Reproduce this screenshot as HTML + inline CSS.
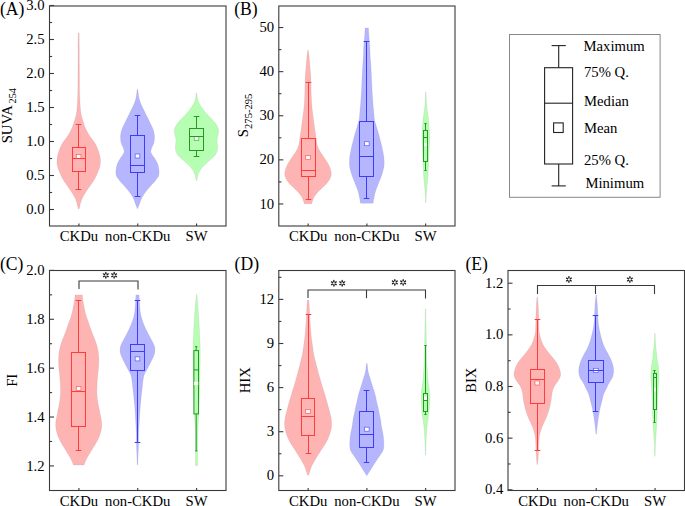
<!DOCTYPE html>
<html><head><meta charset="utf-8"><title>Violin plots</title>
<style>
html,body{margin:0;padding:0;background:#fff;}
body{width:685px;height:506px;overflow:hidden;}
svg{display:block;font-family:"Liberation Serif", serif;}
text{fill:#000;}
</style></head>
<body>
<svg width="685" height="506" viewBox="0 0 685 506">
<rect width="685" height="506" fill="#fff"/>
<path d="M79.15,33.00 C79.18,35.83 79.26,43.83 79.30,50.00 C79.34,56.17 79.36,63.33 79.40,70.00 C79.44,76.67 79.50,85.83 79.55,90.00 C79.60,94.17 79.62,92.85 79.70,95.00 C79.78,97.15 79.85,100.27 80.00,102.90 C80.15,105.53 80.40,108.82 80.60,110.80 C80.80,112.78 80.92,113.48 81.20,114.80 C81.48,116.12 81.83,117.13 82.30,118.70 C82.77,120.27 83.40,122.48 84.00,124.20 C84.60,125.92 85.12,127.30 85.90,129.00 C86.68,130.70 87.72,132.77 88.70,134.40 C89.68,136.03 90.77,137.35 91.80,138.80 C92.83,140.25 94.02,141.65 94.90,143.10 C95.78,144.55 96.45,146.03 97.10,147.50 C97.75,148.97 98.33,150.43 98.80,151.90 C99.27,153.37 99.63,154.83 99.90,156.30 C100.17,157.77 100.35,159.25 100.40,160.70 C100.45,162.15 100.45,163.52 100.20,165.00 C99.95,166.48 99.43,168.05 98.90,169.60 C98.37,171.15 97.70,172.75 97.00,174.30 C96.30,175.85 95.58,177.35 94.70,178.90 C93.82,180.45 92.75,182.05 91.70,183.60 C90.65,185.15 89.48,186.65 88.40,188.20 C87.32,189.75 86.17,191.35 85.20,192.90 C84.23,194.45 83.33,195.97 82.60,197.50 C81.87,199.03 81.28,200.55 80.80,202.10 C80.32,203.65 80.00,205.63 79.70,206.80 C79.40,207.97 79.12,208.72 79.00,209.10 L78.40,209.10 C78.28,208.72 78.00,207.97 77.70,206.80 C77.40,205.63 77.08,203.65 76.60,202.10 C76.12,200.55 75.53,199.03 74.80,197.50 C74.07,195.97 73.17,194.45 72.20,192.90 C71.23,191.35 70.08,189.75 69.00,188.20 C67.92,186.65 66.75,185.15 65.70,183.60 C64.65,182.05 63.58,180.45 62.70,178.90 C61.82,177.35 61.10,175.85 60.40,174.30 C59.70,172.75 59.03,171.15 58.50,169.60 C57.97,168.05 57.45,166.48 57.20,165.00 C56.95,163.52 56.95,162.15 57.00,160.70 C57.05,159.25 57.23,157.77 57.50,156.30 C57.77,154.83 58.13,153.37 58.60,151.90 C59.07,150.43 59.65,148.97 60.30,147.50 C60.95,146.03 61.62,144.55 62.50,143.10 C63.38,141.65 64.57,140.25 65.60,138.80 C66.63,137.35 67.72,136.03 68.70,134.40 C69.68,132.77 70.72,130.70 71.50,129.00 C72.28,127.30 72.80,125.92 73.40,124.20 C74.00,122.48 74.63,120.27 75.10,118.70 C75.57,117.13 75.92,116.12 76.20,114.80 C76.48,113.48 76.60,112.78 76.80,110.80 C77.00,108.82 77.25,105.53 77.40,102.90 C77.55,100.27 77.62,97.15 77.70,95.00 C77.78,92.85 77.80,94.17 77.85,90.00 C77.90,85.83 77.96,76.67 78.00,70.00 C78.04,63.33 78.06,56.17 78.10,50.00 C78.14,43.83 78.22,35.83 78.25,33.00 Z" fill="rgb(255,180,180)" stroke="#808080" stroke-opacity="0.18" stroke-width="0.7"/>
<path d="M137.80,89.50 C137.88,90.08 138.10,91.60 138.30,93.00 C138.50,94.40 138.53,96.02 139.00,97.90 C139.47,99.78 140.23,102.17 141.10,104.30 C141.97,106.43 143.17,108.57 144.20,110.70 C145.23,112.83 146.27,114.95 147.30,117.10 C148.33,119.25 149.38,121.45 150.40,123.60 C151.42,125.75 152.72,127.87 153.40,130.00 C154.08,132.13 154.42,134.27 154.50,136.40 C154.58,138.53 154.30,141.03 153.90,142.80 C153.50,144.57 152.62,145.53 152.10,147.00 C151.58,148.47 150.77,150.27 150.80,151.60 C150.83,152.93 151.65,153.90 152.30,155.00 C152.95,156.10 153.75,156.57 154.70,158.20 C155.65,159.83 157.27,162.58 158.00,164.80 C158.73,167.02 158.98,169.73 159.10,171.50 C159.22,173.27 159.00,174.30 158.70,175.40 C158.40,176.50 157.97,177.08 157.30,178.10 C156.63,179.12 155.63,180.40 154.70,181.50 C153.77,182.60 153.12,183.07 151.70,184.70 C150.28,186.33 147.85,189.10 146.20,191.30 C144.55,193.50 142.95,195.70 141.80,197.90 C140.65,200.10 139.97,202.73 139.30,204.50 C138.63,206.27 138.05,207.83 137.80,208.50 L137.20,208.50 C136.95,207.83 136.37,206.27 135.70,204.50 C135.03,202.73 134.35,200.10 133.20,197.90 C132.05,195.70 130.45,193.50 128.80,191.30 C127.15,189.10 124.72,186.33 123.30,184.70 C121.88,183.07 121.23,182.60 120.30,181.50 C119.37,180.40 118.37,179.12 117.70,178.10 C117.03,177.08 116.60,176.50 116.30,175.40 C116.00,174.30 115.78,173.27 115.90,171.50 C116.02,169.73 116.27,167.02 117.00,164.80 C117.73,162.58 119.35,159.83 120.30,158.20 C121.25,156.57 122.05,156.10 122.70,155.00 C123.35,153.90 124.17,152.93 124.20,151.60 C124.23,150.27 123.42,148.47 122.90,147.00 C122.38,145.53 121.50,144.57 121.10,142.80 C120.70,141.03 120.42,138.53 120.50,136.40 C120.58,134.27 120.92,132.13 121.60,130.00 C122.28,127.87 123.58,125.75 124.60,123.60 C125.62,121.45 126.67,119.25 127.70,117.10 C128.73,114.95 129.77,112.83 130.80,110.70 C131.83,108.57 133.03,106.43 133.90,104.30 C134.77,102.17 135.53,99.78 136.00,97.90 C136.47,96.02 136.50,94.40 136.70,93.00 C136.90,91.60 137.12,90.08 137.20,89.50 Z" fill="rgb(182,182,255)" stroke="#808080" stroke-opacity="0.18" stroke-width="0.7"/>
<path d="M196.80,92.90 C196.90,93.73 197.07,96.25 197.40,97.90 C197.73,99.55 198.05,101.15 198.80,102.80 C199.55,104.45 200.75,106.15 201.90,107.80 C203.05,109.45 204.30,111.07 205.70,112.70 C207.10,114.33 208.78,115.95 210.30,117.60 C211.82,119.25 213.53,120.95 214.80,122.60 C216.07,124.25 217.27,126.02 217.90,127.50 C218.53,128.98 218.58,130.25 218.60,131.50 C218.62,132.75 218.27,133.60 218.00,135.00 C217.73,136.40 217.10,138.25 217.00,139.90 C216.90,141.55 217.33,143.25 217.40,144.90 C217.47,146.55 217.75,148.15 217.40,149.80 C217.05,151.45 216.48,153.15 215.30,154.80 C214.12,156.45 212.03,158.07 210.30,159.70 C208.57,161.33 206.53,162.95 204.90,164.60 C203.27,166.25 201.63,167.95 200.50,169.60 C199.37,171.25 198.72,172.68 198.10,174.50 C197.48,176.32 197.02,179.50 196.80,180.50 L196.20,180.50 C195.98,179.50 195.52,176.32 194.90,174.50 C194.28,172.68 193.63,171.25 192.50,169.60 C191.37,167.95 189.73,166.25 188.10,164.60 C186.47,162.95 184.43,161.33 182.70,159.70 C180.97,158.07 178.88,156.45 177.70,154.80 C176.52,153.15 175.95,151.45 175.60,149.80 C175.25,148.15 175.53,146.55 175.60,144.90 C175.67,143.25 176.10,141.55 176.00,139.90 C175.90,138.25 175.27,136.40 175.00,135.00 C174.73,133.60 174.38,132.75 174.40,131.50 C174.42,130.25 174.47,128.98 175.10,127.50 C175.73,126.02 176.93,124.25 178.20,122.60 C179.47,120.95 181.18,119.25 182.70,117.60 C184.22,115.95 185.90,114.33 187.30,112.70 C188.70,111.07 189.95,109.45 191.10,107.80 C192.25,106.15 193.45,104.45 194.20,102.80 C194.95,101.15 195.27,99.55 195.60,97.90 C195.93,96.25 196.10,93.73 196.20,92.90 Z" fill="rgb(182,255,178)" stroke="#808080" stroke-opacity="0.18" stroke-width="0.7"/>
<rect x="76.29" y="154.41" width="4.62" height="3.99" fill="#fff" stroke="#ff3c3c" stroke-width="0.7" stroke-opacity="0.8"/>
<g stroke="#ff3c3c" stroke-width="1.0" fill="none">
<line x1="78.5" y1="124.5" x2="78.5" y2="147.5"/>
<line x1="78.5" y1="171.5" x2="78.5" y2="189.5"/>
<line x1="75.7" y1="124.5" x2="81.3" y2="124.5"/>
<line x1="75.7" y1="189.5" x2="81.3" y2="189.5"/>
<rect x="72.5" y="147.5" width="13.0" height="24.0"/>
<line x1="72.5" y1="158.5" x2="85.5" y2="158.5"/>
</g>
<rect x="135.19" y="154.00" width="4.62" height="3.99" fill="#fff" stroke="#3c3cff" stroke-width="0.7" stroke-opacity="0.8"/>
<g stroke="#3c3cff" stroke-width="1.0" fill="none">
<line x1="137.5" y1="115.5" x2="137.5" y2="135.5"/>
<line x1="137.5" y1="172.5" x2="137.5" y2="196.5"/>
<line x1="134.7" y1="115.5" x2="140.3" y2="115.5"/>
<line x1="134.7" y1="196.5" x2="140.3" y2="196.5"/>
<rect x="130.5" y="135.5" width="14.0" height="37.0"/>
<line x1="130.5" y1="165.5" x2="144.5" y2="165.5"/>
</g>
<rect x="194.19" y="136.50" width="4.62" height="3.99" fill="#fff" stroke="#229a22" stroke-width="0.7" stroke-opacity="0.8"/>
<g stroke="#229a22" stroke-width="1.0" fill="none">
<line x1="196.5" y1="116.5" x2="196.5" y2="128.5"/>
<line x1="196.5" y1="150.5" x2="196.5" y2="156.5"/>
<line x1="193.7" y1="116.5" x2="199.3" y2="116.5"/>
<line x1="193.7" y1="156.5" x2="199.3" y2="156.5"/>
<rect x="189.5" y="128.5" width="14.0" height="22.0"/>
<line x1="189.5" y1="136.5" x2="203.5" y2="136.5"/>
</g>
<rect x="49.5" y="6.0" width="176.5" height="220.0" fill="none" stroke="#3a3a3a" stroke-width="1.1"/>
<g stroke="#3a3a3a" stroke-width="1.1">
<line x1="49.5" y1="209.5" x2="54.0" y2="209.5"/>
<line x1="49.5" y1="175.5" x2="54.0" y2="175.5"/>
<line x1="49.5" y1="141.5" x2="54.0" y2="141.5"/>
<line x1="49.5" y1="107.5" x2="54.0" y2="107.5"/>
<line x1="49.5" y1="73.5" x2="54.0" y2="73.5"/>
<line x1="49.5" y1="39.5" x2="54.0" y2="39.5"/>
<line x1="49.5" y1="5.5" x2="54.0" y2="5.5"/>
<line x1="49.5" y1="192.5" x2="52.1" y2="192.5"/>
<line x1="49.5" y1="158.5" x2="52.1" y2="158.5"/>
<line x1="49.5" y1="124.5" x2="52.1" y2="124.5"/>
<line x1="49.5" y1="90.5" x2="52.1" y2="90.5"/>
<line x1="49.5" y1="56.5" x2="52.1" y2="56.5"/>
<line x1="49.5" y1="22.5" x2="52.1" y2="22.5"/>
</g>
<text x="44.6" y="214.1" text-anchor="end" font-size="14.7">0.0</text>
<text x="44.6" y="180.1" text-anchor="end" font-size="14.7">0.5</text>
<text x="44.6" y="146.1" text-anchor="end" font-size="14.7">1.0</text>
<text x="44.6" y="112.1" text-anchor="end" font-size="14.7">1.5</text>
<text x="44.6" y="78.1" text-anchor="end" font-size="14.7">2.0</text>
<text x="44.6" y="44.1" text-anchor="end" font-size="14.7">2.5</text>
<text x="44.6" y="10.1" text-anchor="end" font-size="14.7">3.0</text>
<g stroke="#3a3a3a" stroke-width="1.1">
<line x1="78.91666666666667" y1="226.0" x2="78.91666666666667" y2="223.6"/>
<line x1="137.75" y1="226.0" x2="137.75" y2="223.6"/>
<line x1="196.58333333333334" y1="226.0" x2="196.58333333333334" y2="223.6"/>
</g>
<text x="78.91666666666667" y="241.1" text-anchor="middle" font-size="14.7">CKDu</text>
<text x="137.75" y="241.1" text-anchor="middle" font-size="14.7">non-CKDu</text>
<text x="196.58333333333334" y="241.1" text-anchor="middle" font-size="14.7">SW</text>
<path d="M308.30,50.30 C308.45,51.55 308.90,54.77 309.20,57.80 C309.50,60.83 309.85,65.53 310.10,68.50 C310.35,71.47 310.55,73.23 310.70,75.60 C310.85,77.97 310.92,79.73 311.00,82.70 C311.08,85.67 311.10,90.13 311.20,93.40 C311.30,96.67 311.40,99.33 311.60,102.30 C311.80,105.27 312.07,108.23 312.40,111.20 C312.73,114.17 313.30,117.80 313.60,120.10 C313.90,122.40 313.98,123.37 314.20,125.00 C314.42,126.63 314.65,128.25 314.90,129.90 C315.15,131.55 315.45,133.25 315.70,134.90 C315.95,136.55 316.15,138.15 316.40,139.80 C316.65,141.45 316.75,143.15 317.20,144.80 C317.65,146.45 318.28,148.07 319.10,149.70 C319.92,151.33 321.03,152.95 322.10,154.60 C323.17,156.25 324.43,157.95 325.50,159.60 C326.57,161.25 327.67,162.85 328.50,164.50 C329.33,166.15 330.03,167.93 330.50,169.50 C330.97,171.07 331.35,172.43 331.30,173.90 C331.25,175.37 330.87,176.82 330.20,178.30 C329.53,179.78 328.52,181.32 327.30,182.80 C326.08,184.28 324.42,185.72 322.90,187.20 C321.38,188.68 319.57,190.22 318.20,191.70 C316.83,193.18 315.62,194.62 314.70,196.10 C313.78,197.58 313.18,199.33 312.70,200.60 C312.22,201.87 311.95,203.18 311.80,203.70 L304.20,203.70 C304.05,203.18 303.78,201.87 303.30,200.60 C302.82,199.33 302.22,197.58 301.30,196.10 C300.38,194.62 299.17,193.18 297.80,191.70 C296.43,190.22 294.62,188.68 293.10,187.20 C291.58,185.72 289.92,184.28 288.70,182.80 C287.48,181.32 286.47,179.78 285.80,178.30 C285.13,176.82 284.75,175.37 284.70,173.90 C284.65,172.43 285.03,171.07 285.50,169.50 C285.97,167.93 286.67,166.15 287.50,164.50 C288.33,162.85 289.43,161.25 290.50,159.60 C291.57,157.95 292.83,156.25 293.90,154.60 C294.97,152.95 296.08,151.33 296.90,149.70 C297.72,148.07 298.35,146.45 298.80,144.80 C299.25,143.15 299.35,141.45 299.60,139.80 C299.85,138.15 300.05,136.55 300.30,134.90 C300.55,133.25 300.85,131.55 301.10,129.90 C301.35,128.25 301.58,126.63 301.80,125.00 C302.02,123.37 302.10,122.40 302.40,120.10 C302.70,117.80 303.27,114.17 303.60,111.20 C303.93,108.23 304.20,105.27 304.40,102.30 C304.60,99.33 304.70,96.67 304.80,93.40 C304.90,90.13 304.92,85.67 305.00,82.70 C305.08,79.73 305.15,77.97 305.30,75.60 C305.45,73.23 305.65,71.47 305.90,68.50 C306.15,65.53 306.50,60.83 306.80,57.80 C307.10,54.77 307.55,51.55 307.70,50.30 Z" fill="rgb(255,180,180)" stroke="#808080" stroke-opacity="0.18" stroke-width="0.7"/>
<path d="M368.50,27.90 C368.57,29.08 368.75,32.88 368.90,35.00 C369.05,37.12 369.23,38.43 369.40,40.60 C369.57,42.77 369.77,45.45 369.90,48.00 C370.03,50.55 370.05,53.23 370.20,55.90 C370.35,58.57 370.62,61.18 370.80,64.00 C370.98,66.82 371.15,69.97 371.30,72.80 C371.45,75.63 371.57,78.17 371.70,81.00 C371.83,83.83 371.95,86.97 372.10,89.80 C372.25,92.63 372.43,95.47 372.60,98.00 C372.77,100.53 372.93,103.02 373.10,105.00 C373.27,106.98 373.45,108.25 373.60,109.90 C373.75,111.55 373.85,113.25 374.00,114.90 C374.15,116.55 374.18,118.15 374.50,119.80 C374.82,121.45 375.42,123.15 375.90,124.80 C376.38,126.45 376.90,128.07 377.40,129.70 C377.90,131.33 378.45,132.95 378.90,134.60 C379.35,136.25 379.68,137.95 380.10,139.60 C380.52,141.25 381.00,142.85 381.40,144.50 C381.80,146.15 382.12,147.63 382.50,149.50 C382.88,151.37 383.42,153.70 383.70,155.70 C383.98,157.70 384.17,159.58 384.20,161.50 C384.23,163.42 384.20,165.30 383.90,167.20 C383.60,169.10 382.98,170.98 382.40,172.90 C381.82,174.82 381.12,176.78 380.40,178.70 C379.68,180.62 378.83,182.50 378.10,184.40 C377.37,186.30 376.62,188.18 376.00,190.10 C375.38,192.02 374.88,193.70 374.40,195.90 C373.92,198.10 373.32,202.07 373.10,203.30 L360.50,203.30 C360.28,202.07 359.68,198.10 359.20,195.90 C358.72,193.70 358.22,192.02 357.60,190.10 C356.98,188.18 356.23,186.30 355.50,184.40 C354.77,182.50 353.92,180.62 353.20,178.70 C352.48,176.78 351.78,174.82 351.20,172.90 C350.62,170.98 350.00,169.10 349.70,167.20 C349.40,165.30 349.37,163.42 349.40,161.50 C349.43,159.58 349.62,157.70 349.90,155.70 C350.18,153.70 350.72,151.37 351.10,149.50 C351.48,147.63 351.80,146.15 352.20,144.50 C352.60,142.85 353.08,141.25 353.50,139.60 C353.92,137.95 354.25,136.25 354.70,134.60 C355.15,132.95 355.70,131.33 356.20,129.70 C356.70,128.07 357.22,126.45 357.70,124.80 C358.18,123.15 358.78,121.45 359.10,119.80 C359.42,118.15 359.45,116.55 359.60,114.90 C359.75,113.25 359.85,111.55 360.00,109.90 C360.15,108.25 360.33,106.98 360.50,105.00 C360.67,103.02 360.83,100.53 361.00,98.00 C361.17,95.47 361.35,92.63 361.50,89.80 C361.65,86.97 361.77,83.83 361.90,81.00 C362.03,78.17 362.15,75.63 362.30,72.80 C362.45,69.97 362.62,66.82 362.80,64.00 C362.98,61.18 363.25,58.57 363.40,55.90 C363.55,53.23 363.57,50.55 363.70,48.00 C363.83,45.45 364.03,42.77 364.20,40.60 C364.37,38.43 364.55,37.12 364.70,35.00 C364.85,32.88 365.03,29.08 365.10,27.90 Z" fill="rgb(182,182,255)" stroke="#808080" stroke-opacity="0.18" stroke-width="0.7"/>
<path d="M426.00,92.10 C426.05,93.08 426.20,95.97 426.30,98.00 C426.40,100.03 426.43,102.18 426.60,104.30 C426.77,106.42 427.03,108.57 427.30,110.70 C427.57,112.83 427.93,114.95 428.20,117.10 C428.47,119.25 428.70,121.28 428.90,123.60 C429.10,125.92 429.28,128.60 429.40,131.00 C429.52,133.40 429.60,135.67 429.60,138.00 C429.60,140.33 429.52,142.08 429.40,145.00 C429.28,147.92 429.07,151.78 428.90,155.50 C428.73,159.22 428.57,163.88 428.40,167.30 C428.23,170.72 428.07,173.53 427.90,176.00 C427.73,178.47 427.58,180.00 427.40,182.10 C427.22,184.20 426.98,186.45 426.80,188.60 C426.62,190.75 426.43,192.65 426.30,195.00 C426.17,197.35 426.05,201.42 426.00,202.70 L425.60,202.70 C425.55,201.42 425.43,197.35 425.30,195.00 C425.17,192.65 424.98,190.75 424.80,188.60 C424.62,186.45 424.38,184.20 424.20,182.10 C424.02,180.00 423.87,178.47 423.70,176.00 C423.53,173.53 423.37,170.72 423.20,167.30 C423.03,163.88 422.87,159.22 422.70,155.50 C422.53,151.78 422.32,147.92 422.20,145.00 C422.08,142.08 422.00,140.33 422.00,138.00 C422.00,135.67 422.08,133.40 422.20,131.00 C422.32,128.60 422.50,125.92 422.70,123.60 C422.90,121.28 423.13,119.25 423.40,117.10 C423.67,114.95 424.03,112.83 424.30,110.70 C424.57,108.57 424.83,106.42 425.00,104.30 C425.17,102.18 425.20,100.03 425.30,98.00 C425.40,95.97 425.55,93.08 425.60,92.10 Z" fill="rgb(182,255,178)" stroke="#808080" stroke-opacity="0.18" stroke-width="0.7"/>
<rect x="305.69" y="155.60" width="4.62" height="3.99" fill="#fff" stroke="#ff3c3c" stroke-width="0.7" stroke-opacity="0.8"/>
<g stroke="#ff3c3c" stroke-width="1.0" fill="none">
<line x1="308.5" y1="82.5" x2="308.5" y2="138.5"/>
<line x1="308.5" y1="176.5" x2="308.5" y2="199.5"/>
<line x1="305.7" y1="82.5" x2="311.3" y2="82.5"/>
<line x1="305.7" y1="199.5" x2="311.3" y2="199.5"/>
<rect x="301.5" y="138.5" width="14.0" height="38.0"/>
<line x1="301.5" y1="170.5" x2="315.5" y2="170.5"/>
</g>
<rect x="364.49" y="141.70" width="4.62" height="3.99" fill="#fff" stroke="#3c3cff" stroke-width="0.7" stroke-opacity="0.8"/>
<g stroke="#3c3cff" stroke-width="1.0" fill="none">
<line x1="366.5" y1="41.5" x2="366.5" y2="121.5"/>
<line x1="366.5" y1="176.5" x2="366.5" y2="198.5"/>
<line x1="363.7" y1="41.5" x2="369.3" y2="41.5"/>
<line x1="363.7" y1="198.5" x2="369.3" y2="198.5"/>
<rect x="359.5" y="121.5" width="14.0" height="55.0"/>
<line x1="359.5" y1="156.5" x2="373.5" y2="156.5"/>
</g>
<rect x="424.00" y="142.90" width="3.20" height="3.20" fill="#fff" stroke="#229a22" stroke-width="0.7" stroke-opacity="0.0"/>
<g stroke="#229a22" stroke-width="1.0" fill="none">
<line x1="425.5" y1="123.5" x2="425.5" y2="130.5"/>
<line x1="425.5" y1="161.5" x2="425.5" y2="170.5"/>
<line x1="424.3" y1="123.5" x2="426.7" y2="123.5"/>
<line x1="424.3" y1="170.5" x2="426.7" y2="170.5"/>
<rect x="423.5" y="130.5" width="4.0" height="31.0"/>
<line x1="423.5" y1="137.5" x2="427.5" y2="137.5"/>
</g>
<rect x="278.8" y="6.0" width="176.2" height="220.0" fill="none" stroke="#3a3a3a" stroke-width="1.1"/>
<g stroke="#3a3a3a" stroke-width="1.1">
<line x1="278.8" y1="203.95000000000002" x2="283.3" y2="203.95000000000002"/>
<line x1="278.8" y1="159.85" x2="283.3" y2="159.85"/>
<line x1="278.8" y1="115.75" x2="283.3" y2="115.75"/>
<line x1="278.8" y1="71.65" x2="283.3" y2="71.65"/>
<line x1="278.8" y1="27.55" x2="283.3" y2="27.55"/>
<line x1="278.8" y1="181.9" x2="281.40000000000003" y2="181.9"/>
<line x1="278.8" y1="137.8" x2="281.40000000000003" y2="137.8"/>
<line x1="278.8" y1="93.7" x2="281.40000000000003" y2="93.7"/>
<line x1="278.8" y1="49.6" x2="281.40000000000003" y2="49.6"/>
</g>
<text x="274.2" y="208.55" text-anchor="end" font-size="14.7">10</text>
<text x="274.2" y="164.45" text-anchor="end" font-size="14.7">20</text>
<text x="274.2" y="120.35" text-anchor="end" font-size="14.7">30</text>
<text x="274.2" y="76.25" text-anchor="end" font-size="14.7">40</text>
<text x="274.2" y="32.15" text-anchor="end" font-size="14.7">50</text>
<g stroke="#3a3a3a" stroke-width="1.1">
<line x1="308.1666666666667" y1="226.0" x2="308.1666666666667" y2="223.6"/>
<line x1="366.9" y1="226.0" x2="366.9" y2="223.6"/>
<line x1="425.6333333333333" y1="226.0" x2="425.6333333333333" y2="223.6"/>
</g>
<text x="308.1666666666667" y="241.1" text-anchor="middle" font-size="14.7">CKDu</text>
<text x="366.9" y="241.1" text-anchor="middle" font-size="14.7">non-CKDu</text>
<text x="425.6333333333333" y="241.1" text-anchor="middle" font-size="14.7">SW</text>
<path d="M82.30,294.90 C82.42,295.90 82.72,299.00 83.00,300.90 C83.28,302.80 83.67,304.50 84.00,306.30 C84.33,308.10 84.57,309.88 85.00,311.70 C85.43,313.52 86.02,315.38 86.60,317.20 C87.18,319.02 87.87,320.80 88.50,322.60 C89.13,324.40 89.75,326.18 90.40,328.00 C91.05,329.82 91.70,331.68 92.40,333.50 C93.10,335.32 93.92,337.10 94.60,338.90 C95.28,340.70 95.92,342.30 96.50,344.30 C97.08,346.30 97.73,348.90 98.10,350.90 C98.47,352.90 98.58,354.50 98.70,356.30 C98.82,358.10 98.82,359.88 98.80,361.70 C98.78,363.52 98.73,365.38 98.60,367.20 C98.47,369.02 98.18,370.80 98.00,372.60 C97.82,374.40 97.65,376.18 97.50,378.00 C97.35,379.82 97.21,381.53 97.10,383.50 C96.99,385.47 96.87,387.88 96.85,389.80 C96.83,391.72 96.89,393.30 97.00,395.00 C97.11,396.70 97.28,398.33 97.50,400.00 C97.72,401.67 97.98,403.33 98.30,405.00 C98.62,406.67 99.07,408.33 99.40,410.00 C99.73,411.67 99.97,413.27 100.30,415.00 C100.63,416.73 101.17,418.58 101.40,420.40 C101.63,422.22 101.78,424.08 101.70,425.90 C101.62,427.72 101.32,429.50 100.90,431.30 C100.48,433.10 99.93,434.88 99.20,436.70 C98.47,438.52 97.48,440.38 96.50,442.20 C95.52,444.02 94.38,445.80 93.30,447.60 C92.22,449.40 91.10,451.18 90.00,453.00 C88.90,454.82 87.70,456.50 86.70,458.50 C85.70,460.50 84.45,463.92 84.00,465.00 L73.40,465.00 C72.95,463.92 71.70,460.50 70.70,458.50 C69.70,456.50 68.50,454.82 67.40,453.00 C66.30,451.18 65.18,449.40 64.10,447.60 C63.02,445.80 61.88,444.02 60.90,442.20 C59.92,440.38 58.93,438.52 58.20,436.70 C57.47,434.88 56.92,433.10 56.50,431.30 C56.08,429.50 55.78,427.72 55.70,425.90 C55.62,424.08 55.77,422.22 56.00,420.40 C56.23,418.58 56.77,416.73 57.10,415.00 C57.43,413.27 57.67,411.67 58.00,410.00 C58.33,408.33 58.78,406.67 59.10,405.00 C59.42,403.33 59.68,401.67 59.90,400.00 C60.12,398.33 60.29,396.70 60.40,395.00 C60.51,393.30 60.57,391.72 60.55,389.80 C60.53,387.88 60.41,385.47 60.30,383.50 C60.19,381.53 60.05,379.82 59.90,378.00 C59.75,376.18 59.58,374.40 59.40,372.60 C59.22,370.80 58.93,369.02 58.80,367.20 C58.67,365.38 58.62,363.52 58.60,361.70 C58.58,359.88 58.58,358.10 58.70,356.30 C58.82,354.50 58.93,352.90 59.30,350.90 C59.67,348.90 60.32,346.30 60.90,344.30 C61.48,342.30 62.12,340.70 62.80,338.90 C63.48,337.10 64.30,335.32 65.00,333.50 C65.70,331.68 66.35,329.82 67.00,328.00 C67.65,326.18 68.27,324.40 68.90,322.60 C69.53,320.80 70.22,319.02 70.80,317.20 C71.38,315.38 71.97,313.52 72.40,311.70 C72.83,309.88 73.07,308.10 73.40,306.30 C73.73,304.50 74.12,302.80 74.40,300.90 C74.68,299.00 74.98,295.90 75.10,294.90 Z" fill="rgb(255,180,180)" stroke="#808080" stroke-opacity="0.18" stroke-width="0.7"/>
<path d="M139.10,294.90 C139.15,295.80 139.28,298.40 139.40,300.30 C139.52,302.20 139.65,304.38 139.80,306.30 C139.95,308.22 140.03,309.98 140.30,311.80 C140.57,313.62 140.93,315.40 141.40,317.20 C141.87,319.00 142.43,320.78 143.10,322.60 C143.77,324.42 144.57,326.28 145.40,328.10 C146.23,329.92 147.17,331.68 148.10,333.50 C149.03,335.32 150.05,337.18 151.00,339.00 C151.95,340.82 153.17,342.93 153.80,344.40 C154.43,345.87 154.65,346.35 154.80,347.80 C154.95,349.25 155.07,351.32 154.70,353.10 C154.33,354.88 153.23,357.02 152.60,358.50 C151.97,359.98 151.48,360.82 150.90,362.00 C150.32,363.18 149.80,364.27 149.10,365.60 C148.40,366.93 147.50,368.52 146.70,370.00 C145.90,371.48 144.87,373.00 144.30,374.50 C143.73,376.00 143.57,377.52 143.30,379.00 C143.03,380.48 142.97,381.18 142.70,383.40 C142.43,385.62 142.02,389.35 141.70,392.30 C141.38,395.25 141.08,398.15 140.80,401.10 C140.52,404.05 140.22,407.03 140.00,410.00 C139.78,412.97 139.68,415.70 139.50,418.90 C139.32,422.10 139.05,425.68 138.90,429.20 C138.75,432.72 138.68,436.72 138.60,440.00 C138.52,443.28 138.48,446.23 138.40,448.90 C138.32,451.57 138.20,453.37 138.10,456.00 C138.00,458.63 137.85,463.25 137.80,464.70 L137.20,464.70 C137.15,463.25 137.00,458.63 136.90,456.00 C136.80,453.37 136.68,451.57 136.60,448.90 C136.52,446.23 136.48,443.28 136.40,440.00 C136.32,436.72 136.25,432.72 136.10,429.20 C135.95,425.68 135.68,422.10 135.50,418.90 C135.32,415.70 135.22,412.97 135.00,410.00 C134.78,407.03 134.48,404.05 134.20,401.10 C133.92,398.15 133.62,395.25 133.30,392.30 C132.98,389.35 132.57,385.62 132.30,383.40 C132.03,381.18 131.97,380.48 131.70,379.00 C131.43,377.52 131.27,376.00 130.70,374.50 C130.13,373.00 129.10,371.48 128.30,370.00 C127.50,368.52 126.60,366.93 125.90,365.60 C125.20,364.27 124.68,363.18 124.10,362.00 C123.52,360.82 123.03,359.98 122.40,358.50 C121.77,357.02 120.67,354.88 120.30,353.10 C119.93,351.32 120.05,349.25 120.20,347.80 C120.35,346.35 120.57,345.87 121.20,344.40 C121.83,342.93 123.05,340.82 124.00,339.00 C124.95,337.18 125.97,335.32 126.90,333.50 C127.83,331.68 128.77,329.92 129.60,328.10 C130.43,326.28 131.23,324.42 131.90,322.60 C132.57,320.78 133.13,319.00 133.60,317.20 C134.07,315.40 134.43,313.62 134.70,311.80 C134.97,309.98 135.05,308.22 135.20,306.30 C135.35,304.38 135.48,302.20 135.60,300.30 C135.72,298.40 135.85,295.80 135.90,294.90 Z" fill="rgb(182,182,255)" stroke="#808080" stroke-opacity="0.18" stroke-width="0.7"/>
<path d="M196.80,294.40 C196.87,295.17 197.05,297.43 197.20,299.00 C197.35,300.57 197.50,301.47 197.70,303.80 C197.90,306.13 198.18,309.87 198.40,313.00 C198.62,316.13 198.82,319.43 199.00,322.60 C199.18,325.77 199.33,328.85 199.50,332.00 C199.67,335.15 199.88,338.50 200.00,341.50 C200.12,344.50 200.17,346.92 200.20,350.00 C200.23,353.08 200.23,356.67 200.20,360.00 C200.17,363.33 200.07,366.67 200.00,370.00 C199.93,373.33 199.88,376.50 199.80,380.00 C199.72,383.50 199.60,387.08 199.50,391.00 C199.40,394.92 199.32,399.62 199.20,403.50 C199.08,407.38 198.98,410.68 198.80,414.30 C198.62,417.92 198.27,421.58 198.10,425.20 C197.93,428.82 197.87,432.37 197.80,436.00 C197.73,439.63 197.72,442.10 197.70,447.00 C197.68,451.90 197.70,462.33 197.70,465.40 L195.50,465.40 C195.50,462.33 195.52,451.90 195.50,447.00 C195.48,442.10 195.47,439.63 195.40,436.00 C195.33,432.37 195.27,428.82 195.10,425.20 C194.93,421.58 194.58,417.92 194.40,414.30 C194.22,410.68 194.12,407.38 194.00,403.50 C193.88,399.62 193.80,394.92 193.70,391.00 C193.60,387.08 193.48,383.50 193.40,380.00 C193.32,376.50 193.27,373.33 193.20,370.00 C193.13,366.67 193.03,363.33 193.00,360.00 C192.97,356.67 192.97,353.08 193.00,350.00 C193.03,346.92 193.08,344.50 193.20,341.50 C193.32,338.50 193.53,335.15 193.70,332.00 C193.87,328.85 194.02,325.77 194.20,322.60 C194.38,319.43 194.58,316.13 194.80,313.00 C195.02,309.87 195.30,306.13 195.50,303.80 C195.70,301.47 195.85,300.57 196.00,299.00 C196.15,297.43 196.33,295.17 196.40,294.40 Z" fill="rgb(182,255,178)" stroke="#808080" stroke-opacity="0.18" stroke-width="0.7"/>
<rect x="76.29" y="386.40" width="4.62" height="3.99" fill="#fff" stroke="#ff3c3c" stroke-width="0.7" stroke-opacity="0.8"/>
<g stroke="#ff3c3c" stroke-width="1.0" fill="none">
<line x1="78.5" y1="300.5" x2="78.5" y2="352.5"/>
<line x1="78.5" y1="426.5" x2="78.5" y2="450.5"/>
<line x1="75.7" y1="300.5" x2="81.3" y2="300.5"/>
<line x1="75.7" y1="450.5" x2="81.3" y2="450.5"/>
<rect x="71.5" y="352.5" width="14.0" height="74.0"/>
<line x1="71.5" y1="391.5" x2="85.5" y2="391.5"/>
</g>
<rect x="135.19" y="356.90" width="4.62" height="3.99" fill="#fff" stroke="#3c3cff" stroke-width="0.7" stroke-opacity="0.8"/>
<g stroke="#3c3cff" stroke-width="1.0" fill="none">
<line x1="137.5" y1="300.5" x2="137.5" y2="344.5"/>
<line x1="137.5" y1="370.5" x2="137.5" y2="442.5"/>
<line x1="134.7" y1="300.5" x2="140.3" y2="300.5"/>
<line x1="134.7" y1="442.5" x2="140.3" y2="442.5"/>
<rect x="130.5" y="344.5" width="14.0" height="26.0"/>
<line x1="130.5" y1="351.5" x2="144.5" y2="351.5"/>
</g>
<g stroke="#229a22" stroke-width="1.0" fill="none">
<line x1="196.2" y1="346.6" x2="196.2" y2="350.6"/>
<line x1="196.2" y1="413.9" x2="196.2" y2="450.9"/>
<line x1="195.1" y1="346.6" x2="197.29999999999998" y2="346.6"/>
<line x1="195.1" y1="450.9" x2="197.29999999999998" y2="450.9"/>
<rect x="193.9" y="350.6" width="4.599999999999994" height="63.299999999999955"/>
<line x1="193.9" y1="369.9" x2="198.5" y2="369.9"/>
</g>
<rect x="194.15" y="381.75" width="4.10" height="3.30" fill="#fff" stroke="#229a22" stroke-width="0.7" stroke-opacity="0.0"/>
<rect x="49.5" y="270.5" width="176.5" height="220.0" fill="none" stroke="#3a3a3a" stroke-width="1.1"/>
<g stroke="#3a3a3a" stroke-width="1.1">
<line x1="49.5" y1="465.91999999999996" x2="54.0" y2="465.91999999999996"/>
<line x1="49.5" y1="417.03999999999996" x2="54.0" y2="417.03999999999996"/>
<line x1="49.5" y1="368.15999999999997" x2="54.0" y2="368.15999999999997"/>
<line x1="49.5" y1="319.28" x2="54.0" y2="319.28"/>
<line x1="49.5" y1="270.4" x2="54.0" y2="270.4"/>
<line x1="49.5" y1="441.47999999999996" x2="52.1" y2="441.47999999999996"/>
<line x1="49.5" y1="392.59999999999997" x2="52.1" y2="392.59999999999997"/>
<line x1="49.5" y1="343.71999999999997" x2="52.1" y2="343.71999999999997"/>
<line x1="49.5" y1="294.84" x2="52.1" y2="294.84"/>
</g>
<text x="44.6" y="470.52" text-anchor="end" font-size="14.7">1.2</text>
<text x="44.6" y="421.64" text-anchor="end" font-size="14.7">1.4</text>
<text x="44.6" y="372.76" text-anchor="end" font-size="14.7">1.6</text>
<text x="44.6" y="323.88" text-anchor="end" font-size="14.7">1.8</text>
<text x="44.6" y="275.0" text-anchor="end" font-size="14.7">2.0</text>
<g stroke="#3a3a3a" stroke-width="1.1">
<line x1="78.91666666666667" y1="490.5" x2="78.91666666666667" y2="488.1"/>
<line x1="137.75" y1="490.5" x2="137.75" y2="488.1"/>
<line x1="196.58333333333334" y1="490.5" x2="196.58333333333334" y2="488.1"/>
</g>
<text x="78.91666666666667" y="505.8" text-anchor="middle" font-size="14.7">CKDu</text>
<text x="137.75" y="505.8" text-anchor="middle" font-size="14.7">non-CKDu</text>
<text x="196.58333333333334" y="505.8" text-anchor="middle" font-size="14.7">SW</text>
<path d="M308.90,299.90 C308.98,301.22 309.27,305.30 309.40,307.80 C309.53,310.30 309.60,312.75 309.70,314.90 C309.80,317.05 309.87,318.68 310.00,320.70 C310.13,322.72 310.33,324.87 310.50,327.00 C310.67,329.13 310.80,331.33 311.00,333.50 C311.20,335.67 311.43,337.87 311.70,340.00 C311.97,342.13 312.32,344.30 312.60,346.30 C312.88,348.30 313.18,350.55 313.40,352.00 C313.62,353.45 313.55,353.43 313.90,355.00 C314.25,356.57 314.97,359.27 315.50,361.40 C316.03,363.53 316.55,365.65 317.10,367.80 C317.65,369.95 318.22,372.15 318.80,374.30 C319.38,376.45 319.98,378.57 320.60,380.70 C321.22,382.83 321.85,384.97 322.50,387.10 C323.15,389.23 323.85,391.37 324.50,393.50 C325.15,395.63 325.78,397.77 326.40,399.90 C327.02,402.03 327.62,404.15 328.20,406.30 C328.78,408.45 329.45,411.02 329.90,412.80 C330.35,414.58 330.63,415.57 330.90,417.00 C331.17,418.43 331.42,419.60 331.50,421.40 C331.58,423.20 331.70,425.65 331.40,427.80 C331.10,429.95 330.43,432.15 329.70,434.30 C328.97,436.45 328.08,438.57 327.00,440.70 C325.92,442.83 324.53,444.97 323.20,447.10 C321.87,449.23 320.37,451.37 319.00,453.50 C317.63,455.63 316.23,457.77 315.00,459.90 C313.77,462.03 312.53,464.15 311.60,466.30 C310.67,468.45 309.93,471.30 309.40,472.80 C308.87,474.30 308.57,474.88 308.40,475.30 L307.80,475.30 C307.63,474.88 307.33,474.30 306.80,472.80 C306.27,471.30 305.53,468.45 304.60,466.30 C303.67,464.15 302.43,462.03 301.20,459.90 C299.97,457.77 298.57,455.63 297.20,453.50 C295.83,451.37 294.33,449.23 293.00,447.10 C291.67,444.97 290.28,442.83 289.20,440.70 C288.12,438.57 287.23,436.45 286.50,434.30 C285.77,432.15 285.10,429.95 284.80,427.80 C284.50,425.65 284.62,423.20 284.70,421.40 C284.78,419.60 285.03,418.43 285.30,417.00 C285.57,415.57 285.85,414.58 286.30,412.80 C286.75,411.02 287.42,408.45 288.00,406.30 C288.58,404.15 289.18,402.03 289.80,399.90 C290.42,397.77 291.05,395.63 291.70,393.50 C292.35,391.37 293.05,389.23 293.70,387.10 C294.35,384.97 294.98,382.83 295.60,380.70 C296.22,378.57 296.82,376.45 297.40,374.30 C297.98,372.15 298.55,369.95 299.10,367.80 C299.65,365.65 300.17,363.53 300.70,361.40 C301.23,359.27 301.95,356.57 302.30,355.00 C302.65,353.43 302.58,353.45 302.80,352.00 C303.02,350.55 303.32,348.30 303.60,346.30 C303.88,344.30 304.23,342.13 304.50,340.00 C304.77,337.87 305.00,335.67 305.20,333.50 C305.40,331.33 305.53,329.13 305.70,327.00 C305.87,324.87 306.07,322.72 306.20,320.70 C306.33,318.68 306.40,317.05 306.50,314.90 C306.60,312.75 306.67,310.30 306.80,307.80 C306.93,305.30 307.22,301.22 307.30,299.90 Z" fill="rgb(255,180,180)" stroke="#808080" stroke-opacity="0.18" stroke-width="0.7"/>
<path d="M367.10,363.30 C367.18,363.92 367.42,365.58 367.60,367.00 C367.78,368.42 367.82,370.00 368.20,371.80 C368.58,373.60 369.30,375.82 369.90,377.80 C370.50,379.78 371.18,381.73 371.80,383.70 C372.42,385.67 373.00,387.63 373.60,389.60 C374.20,391.57 374.90,393.52 375.40,395.50 C375.90,397.48 376.15,399.52 376.60,401.50 C377.05,403.48 377.67,405.43 378.10,407.40 C378.53,409.37 378.80,411.33 379.20,413.30 C379.60,415.27 380.17,417.33 380.50,419.20 C380.83,421.07 380.98,423.05 381.20,424.50 C381.42,425.95 381.48,426.27 381.80,427.90 C382.12,429.53 382.77,432.17 383.10,434.30 C383.43,436.43 383.68,438.57 383.80,440.70 C383.92,442.83 383.93,445.47 383.80,447.10 C383.67,448.73 383.42,449.42 383.00,450.50 C382.58,451.58 382.32,452.02 381.30,453.60 C380.28,455.18 378.35,457.87 376.90,460.00 C375.45,462.13 373.97,464.27 372.60,466.40 C371.23,468.53 369.62,471.30 368.70,472.80 C367.78,474.30 367.37,474.97 367.10,475.40 L366.50,475.40 C366.23,474.97 365.82,474.30 364.90,472.80 C363.98,471.30 362.37,468.53 361.00,466.40 C359.63,464.27 358.15,462.13 356.70,460.00 C355.25,457.87 353.32,455.18 352.30,453.60 C351.28,452.02 351.02,451.58 350.60,450.50 C350.18,449.42 349.93,448.73 349.80,447.10 C349.67,445.47 349.68,442.83 349.80,440.70 C349.92,438.57 350.17,436.43 350.50,434.30 C350.83,432.17 351.48,429.53 351.80,427.90 C352.12,426.27 352.18,425.95 352.40,424.50 C352.62,423.05 352.77,421.07 353.10,419.20 C353.43,417.33 354.00,415.27 354.40,413.30 C354.80,411.33 355.07,409.37 355.50,407.40 C355.93,405.43 356.55,403.48 357.00,401.50 C357.45,399.52 357.70,397.48 358.20,395.50 C358.70,393.52 359.40,391.57 360.00,389.60 C360.60,387.63 361.18,385.67 361.80,383.70 C362.42,381.73 363.10,379.78 363.70,377.80 C364.30,375.82 365.02,373.60 365.40,371.80 C365.78,370.00 365.82,368.42 366.00,367.00 C366.18,365.58 366.42,363.92 366.50,363.30 Z" fill="rgb(182,182,255)" stroke="#808080" stroke-opacity="0.18" stroke-width="0.7"/>
<path d="M425.70,308.90 C425.73,310.75 425.83,316.48 425.90,320.00 C425.97,323.52 426.02,325.83 426.10,330.00 C426.18,334.17 426.30,340.13 426.40,345.00 C426.50,349.87 426.57,355.20 426.70,359.20 C426.83,363.20 427.00,365.62 427.20,369.00 C427.40,372.38 427.65,376.83 427.90,379.50 C428.15,382.17 428.43,382.93 428.70,385.00 C428.97,387.07 429.33,389.90 429.50,391.90 C429.67,393.90 429.68,395.27 429.70,397.00 C429.72,398.73 429.70,400.55 429.65,402.30 C429.60,404.05 429.51,405.77 429.40,407.50 C429.29,409.23 429.23,410.68 429.00,412.70 C428.77,414.72 428.28,417.63 428.00,419.60 C427.72,421.57 427.50,422.88 427.30,424.50 C427.10,426.12 426.93,427.72 426.80,429.30 C426.67,430.88 426.60,432.35 426.50,434.00 C426.40,435.65 426.30,437.03 426.20,439.20 C426.10,441.37 425.98,444.37 425.90,447.00 C425.82,449.63 425.73,453.67 425.70,455.00 L425.30,455.00 C425.27,453.67 425.18,449.63 425.10,447.00 C425.02,444.37 424.90,441.37 424.80,439.20 C424.70,437.03 424.60,435.65 424.50,434.00 C424.40,432.35 424.33,430.88 424.20,429.30 C424.07,427.72 423.90,426.12 423.70,424.50 C423.50,422.88 423.28,421.57 423.00,419.60 C422.72,417.63 422.23,414.72 422.00,412.70 C421.77,410.68 421.71,409.23 421.60,407.50 C421.49,405.77 421.40,404.05 421.35,402.30 C421.30,400.55 421.28,398.73 421.30,397.00 C421.32,395.27 421.33,393.90 421.50,391.90 C421.67,389.90 422.03,387.07 422.30,385.00 C422.57,382.93 422.85,382.17 423.10,379.50 C423.35,376.83 423.60,372.38 423.80,369.00 C424.00,365.62 424.17,363.20 424.30,359.20 C424.43,355.20 424.50,349.87 424.60,345.00 C424.70,340.13 424.82,334.17 424.90,330.00 C424.98,325.83 425.03,323.52 425.10,320.00 C425.17,316.48 425.27,310.75 425.30,308.90 Z" fill="rgb(182,255,178)" stroke="#808080" stroke-opacity="0.18" stroke-width="0.7"/>
<rect x="305.69" y="409.50" width="4.62" height="3.99" fill="#fff" stroke="#ff3c3c" stroke-width="0.7" stroke-opacity="0.8"/>
<g stroke="#ff3c3c" stroke-width="1.0" fill="none">
<line x1="308.5" y1="314.5" x2="308.5" y2="398.5"/>
<line x1="308.5" y1="435.5" x2="308.5" y2="453.5"/>
<line x1="305.7" y1="314.5" x2="311.3" y2="314.5"/>
<line x1="305.7" y1="453.5" x2="311.3" y2="453.5"/>
<rect x="301.5" y="398.5" width="13.0" height="37.0"/>
<line x1="301.5" y1="416.5" x2="314.5" y2="416.5"/>
</g>
<rect x="364.49" y="427.20" width="4.62" height="3.99" fill="#fff" stroke="#3c3cff" stroke-width="0.7" stroke-opacity="0.8"/>
<g stroke="#3c3cff" stroke-width="1.0" fill="none">
<line x1="366.5" y1="390.5" x2="366.5" y2="411.5"/>
<line x1="366.5" y1="447.5" x2="366.5" y2="462.5"/>
<line x1="363.7" y1="390.5" x2="369.3" y2="390.5"/>
<line x1="363.7" y1="462.5" x2="369.3" y2="462.5"/>
<rect x="359.5" y="411.5" width="14.0" height="36.0"/>
<line x1="359.5" y1="434.5" x2="373.5" y2="434.5"/>
</g>
<rect x="423.85" y="396.50" width="3.40" height="3.40" fill="#fff" stroke="#229a22" stroke-width="0.7" stroke-opacity="0.0"/>
<g stroke="#229a22" stroke-width="1.0" fill="none">
<line x1="425.5" y1="345.5" x2="425.5" y2="393.5"/>
<line x1="425.5" y1="411.5" x2="425.5" y2="414.5"/>
<line x1="424.3" y1="345.5" x2="426.7" y2="345.5"/>
<line x1="424.3" y1="414.5" x2="426.7" y2="414.5"/>
<rect x="423.5" y="393.5" width="4.0" height="18.0"/>
<line x1="423.5" y1="400.5" x2="427.5" y2="400.5"/>
</g>
<rect x="278.8" y="270.5" width="176.2" height="220.0" fill="none" stroke="#3a3a3a" stroke-width="1.1"/>
<g stroke="#3a3a3a" stroke-width="1.1">
<line x1="278.8" y1="475.8" x2="283.3" y2="475.8"/>
<line x1="278.8" y1="431.70000000000005" x2="283.3" y2="431.70000000000005"/>
<line x1="278.8" y1="387.6" x2="283.3" y2="387.6"/>
<line x1="278.8" y1="343.5" x2="283.3" y2="343.5"/>
<line x1="278.8" y1="299.40000000000003" x2="283.3" y2="299.40000000000003"/>
<line x1="278.8" y1="453.75" x2="281.40000000000003" y2="453.75"/>
<line x1="278.8" y1="409.65000000000003" x2="281.40000000000003" y2="409.65000000000003"/>
<line x1="278.8" y1="365.55" x2="281.40000000000003" y2="365.55"/>
<line x1="278.8" y1="321.45000000000005" x2="281.40000000000003" y2="321.45000000000005"/>
<line x1="278.8" y1="277.35" x2="281.40000000000003" y2="277.35"/>
</g>
<text x="274.2" y="480.40000000000003" text-anchor="end" font-size="14.7">0</text>
<text x="274.2" y="436.30000000000007" text-anchor="end" font-size="14.7">3</text>
<text x="274.2" y="392.20000000000005" text-anchor="end" font-size="14.7">6</text>
<text x="274.2" y="348.1" text-anchor="end" font-size="14.7">9</text>
<text x="274.2" y="304.00000000000006" text-anchor="end" font-size="14.7">12</text>
<g stroke="#3a3a3a" stroke-width="1.1">
<line x1="308.1666666666667" y1="490.5" x2="308.1666666666667" y2="488.1"/>
<line x1="366.9" y1="490.5" x2="366.9" y2="488.1"/>
<line x1="425.6333333333333" y1="490.5" x2="425.6333333333333" y2="488.1"/>
</g>
<text x="308.1666666666667" y="505.8" text-anchor="middle" font-size="14.7">CKDu</text>
<text x="366.9" y="505.8" text-anchor="middle" font-size="14.7">non-CKDu</text>
<text x="425.6333333333333" y="505.8" text-anchor="middle" font-size="14.7">SW</text>
<path d="M537.60,297.20 C537.70,298.50 538.03,302.28 538.20,305.00 C538.37,307.72 538.50,311.07 538.60,313.50 C538.70,315.93 538.75,317.68 538.80,319.60 C538.85,321.52 538.83,323.03 538.90,325.00 C538.97,326.97 538.93,329.27 539.20,331.40 C539.47,333.53 539.90,335.65 540.50,337.80 C541.10,339.95 541.70,342.15 542.80,344.30 C543.90,346.45 545.53,348.57 547.10,350.70 C548.67,352.83 550.53,354.97 552.20,357.10 C553.87,359.23 555.82,361.37 557.10,363.50 C558.38,365.63 559.32,367.98 559.90,369.90 C560.48,371.82 560.70,373.52 560.60,375.00 C560.50,376.48 559.92,377.53 559.30,378.80 C558.68,380.07 557.75,381.33 556.90,382.60 C556.05,383.87 554.90,385.13 554.20,386.40 C553.50,387.67 553.08,388.93 552.70,390.20 C552.32,391.47 552.10,392.73 551.90,394.00 C551.70,395.27 551.67,396.53 551.50,397.80 C551.33,399.07 551.30,399.63 550.90,401.60 C550.50,403.57 549.87,406.90 549.10,409.60 C548.33,412.30 547.42,415.07 546.30,417.80 C545.18,420.53 543.48,423.27 542.40,426.00 C541.32,428.73 540.38,431.47 539.80,434.20 C539.22,436.93 539.10,439.67 538.90,442.40 C538.70,445.13 538.73,447.87 538.60,450.60 C538.47,453.33 538.27,456.48 538.10,458.80 C537.93,461.12 537.68,463.55 537.60,464.50 L537.00,464.50 C536.92,463.55 536.67,461.12 536.50,458.80 C536.33,456.48 536.13,453.33 536.00,450.60 C535.87,447.87 535.90,445.13 535.70,442.40 C535.50,439.67 535.38,436.93 534.80,434.20 C534.22,431.47 533.28,428.73 532.20,426.00 C531.12,423.27 529.42,420.53 528.30,417.80 C527.18,415.07 526.27,412.30 525.50,409.60 C524.73,406.90 524.10,403.57 523.70,401.60 C523.30,399.63 523.27,399.07 523.10,397.80 C522.93,396.53 522.90,395.27 522.70,394.00 C522.50,392.73 522.28,391.47 521.90,390.20 C521.52,388.93 521.10,387.67 520.40,386.40 C519.70,385.13 518.55,383.87 517.70,382.60 C516.85,381.33 515.92,380.07 515.30,378.80 C514.68,377.53 514.10,376.48 514.00,375.00 C513.90,373.52 514.12,371.82 514.70,369.90 C515.28,367.98 516.22,365.63 517.50,363.50 C518.78,361.37 520.73,359.23 522.40,357.10 C524.07,354.97 525.93,352.83 527.50,350.70 C529.07,348.57 530.70,346.45 531.80,344.30 C532.90,342.15 533.50,339.95 534.10,337.80 C534.70,335.65 535.13,333.53 535.40,331.40 C535.67,329.27 535.63,326.97 535.70,325.00 C535.77,323.03 535.75,321.52 535.80,319.60 C535.85,317.68 535.90,315.93 536.00,313.50 C536.10,311.07 536.23,307.72 536.40,305.00 C536.57,302.28 536.90,298.50 537.00,297.20 Z" fill="rgb(255,180,180)" stroke="#808080" stroke-opacity="0.18" stroke-width="0.7"/>
<path d="M596.50,295.00 C596.62,296.27 597.02,300.27 597.20,302.60 C597.38,304.93 597.48,306.90 597.60,309.00 C597.72,311.10 597.82,313.37 597.90,315.20 C597.98,317.03 597.95,318.13 598.10,320.00 C598.25,321.87 598.47,324.27 598.80,326.40 C599.13,328.53 599.62,330.65 600.10,332.80 C600.58,334.95 601.07,337.15 601.70,339.30 C602.33,341.45 603.00,343.57 603.90,345.70 C604.80,347.83 606.00,349.97 607.10,352.10 C608.20,354.23 609.53,356.37 610.50,358.50 C611.47,360.63 612.37,362.77 612.90,364.90 C613.43,367.03 613.78,369.15 613.70,371.30 C613.62,373.45 613.02,376.12 612.40,377.80 C611.78,379.48 610.67,380.33 610.00,381.40 C609.33,382.47 608.93,383.13 608.40,384.20 C607.87,385.27 607.58,386.12 606.80,387.80 C606.02,389.48 604.50,392.15 603.70,394.30 C602.90,396.45 602.55,398.57 602.00,400.70 C601.45,402.83 600.88,404.97 600.40,407.10 C599.92,409.23 599.48,411.37 599.10,413.50 C598.72,415.63 598.40,417.77 598.10,419.90 C597.80,422.03 597.57,423.95 597.30,426.30 C597.03,428.65 596.63,432.72 596.50,434.00 L595.90,434.00 C595.77,432.72 595.37,428.65 595.10,426.30 C594.83,423.95 594.60,422.03 594.30,419.90 C594.00,417.77 593.68,415.63 593.30,413.50 C592.92,411.37 592.48,409.23 592.00,407.10 C591.52,404.97 590.95,402.83 590.40,400.70 C589.85,398.57 589.50,396.45 588.70,394.30 C587.90,392.15 586.38,389.48 585.60,387.80 C584.82,386.12 584.53,385.27 584.00,384.20 C583.47,383.13 583.07,382.47 582.40,381.40 C581.73,380.33 580.62,379.48 580.00,377.80 C579.38,376.12 578.78,373.45 578.70,371.30 C578.62,369.15 578.97,367.03 579.50,364.90 C580.03,362.77 580.93,360.63 581.90,358.50 C582.87,356.37 584.20,354.23 585.30,352.10 C586.40,349.97 587.60,347.83 588.50,345.70 C589.40,343.57 590.07,341.45 590.70,339.30 C591.33,337.15 591.82,334.95 592.30,332.80 C592.78,330.65 593.27,328.53 593.60,326.40 C593.93,324.27 594.15,321.87 594.30,320.00 C594.45,318.13 594.42,317.03 594.50,315.20 C594.58,313.37 594.68,311.10 594.80,309.00 C594.92,306.90 595.02,304.93 595.20,302.60 C595.38,300.27 595.78,296.27 595.90,295.00 Z" fill="rgb(182,182,255)" stroke="#808080" stroke-opacity="0.18" stroke-width="0.7"/>
<path d="M655.10,333.20 C655.15,334.33 655.27,337.65 655.40,340.00 C655.53,342.35 655.68,344.85 655.90,347.30 C656.12,349.75 656.48,352.58 656.70,354.70 C656.92,356.82 656.98,358.45 657.20,360.00 C657.42,361.55 657.77,362.68 658.00,364.00 C658.23,365.32 658.43,365.93 658.60,367.90 C658.77,369.87 659.02,373.17 659.00,375.80 C658.98,378.43 658.65,381.07 658.50,383.70 C658.35,386.33 658.23,389.25 658.10,391.60 C657.97,393.95 657.82,395.40 657.70,397.80 C657.58,400.20 657.50,403.05 657.40,406.00 C657.30,408.95 657.22,412.43 657.10,415.50 C656.98,418.57 656.87,421.43 656.70,424.40 C656.53,427.37 656.28,430.35 656.10,433.30 C655.92,436.25 655.73,439.48 655.60,442.10 C655.47,444.72 655.38,446.63 655.30,449.00 C655.22,451.37 655.13,455.08 655.10,456.30 L654.70,456.30 C654.67,455.08 654.58,451.37 654.50,449.00 C654.42,446.63 654.33,444.72 654.20,442.10 C654.07,439.48 653.88,436.25 653.70,433.30 C653.52,430.35 653.27,427.37 653.10,424.40 C652.93,421.43 652.82,418.57 652.70,415.50 C652.58,412.43 652.50,408.95 652.40,406.00 C652.30,403.05 652.22,400.20 652.10,397.80 C651.98,395.40 651.83,393.95 651.70,391.60 C651.57,389.25 651.45,386.33 651.30,383.70 C651.15,381.07 650.82,378.43 650.80,375.80 C650.78,373.17 651.03,369.87 651.20,367.90 C651.37,365.93 651.57,365.32 651.80,364.00 C652.03,362.68 652.38,361.55 652.60,360.00 C652.82,358.45 652.88,356.82 653.10,354.70 C653.32,352.58 653.68,349.75 653.90,347.30 C654.12,344.85 654.27,342.35 654.40,340.00 C654.53,337.65 654.65,334.33 654.70,333.20 Z" fill="rgb(182,255,178)" stroke="#808080" stroke-opacity="0.18" stroke-width="0.7"/>
<rect x="534.99" y="381.00" width="4.62" height="3.99" fill="#fff" stroke="#ff3c3c" stroke-width="0.7" stroke-opacity="0.8"/>
<g stroke="#ff3c3c" stroke-width="1.0" fill="none">
<line x1="537.5" y1="319.5" x2="537.5" y2="369.5"/>
<line x1="537.5" y1="403.5" x2="537.5" y2="450.5"/>
<line x1="534.7" y1="319.5" x2="540.3" y2="319.5"/>
<line x1="534.7" y1="450.5" x2="540.3" y2="450.5"/>
<rect x="530.5" y="369.5" width="14.0" height="34.0"/>
<line x1="530.5" y1="379.5" x2="544.5" y2="379.5"/>
</g>
<rect x="593.59" y="368.31" width="4.62" height="3.99" fill="#fff" stroke="#3c3cff" stroke-width="0.7" stroke-opacity="0.8"/>
<g stroke="#3c3cff" stroke-width="1.0" fill="none">
<line x1="595.5" y1="315.5" x2="595.5" y2="360.5"/>
<line x1="595.5" y1="382.5" x2="595.5" y2="411.5"/>
<line x1="592.7" y1="315.5" x2="598.3" y2="315.5"/>
<line x1="592.7" y1="411.5" x2="598.3" y2="411.5"/>
<rect x="588.5" y="360.5" width="15.0" height="22.0"/>
<line x1="588.5" y1="370.5" x2="603.5" y2="370.5"/>
</g>
<rect x="653.10" y="387.80" width="3.60" height="3.60" fill="#fff" stroke="#229a22" stroke-width="0.7" stroke-opacity="0.0"/>
<g stroke="#229a22" stroke-width="1.0" fill="none">
<line x1="654.5" y1="370.5" x2="654.5" y2="373.5"/>
<line x1="654.5" y1="409.5" x2="654.5" y2="422.5"/>
<line x1="653.3" y1="370.5" x2="655.7" y2="370.5"/>
<line x1="653.3" y1="422.5" x2="655.7" y2="422.5"/>
<rect x="653.5" y="373.5" width="3.0" height="36.0"/>
<line x1="653.5" y1="377.5" x2="656.5" y2="377.5"/>
</g>
<rect x="508.0" y="270.5" width="176.5" height="220.0" fill="none" stroke="#3a3a3a" stroke-width="1.1"/>
<g stroke="#3a3a3a" stroke-width="1.1">
<line x1="508.0" y1="489.8" x2="512.5" y2="489.8"/>
<line x1="508.0" y1="438.15000000000003" x2="512.5" y2="438.15000000000003"/>
<line x1="508.0" y1="386.5" x2="512.5" y2="386.5"/>
<line x1="508.0" y1="334.85" x2="512.5" y2="334.85"/>
<line x1="508.0" y1="283.20000000000005" x2="512.5" y2="283.20000000000005"/>
<line x1="508.0" y1="463.975" x2="510.6" y2="463.975"/>
<line x1="508.0" y1="412.32500000000005" x2="510.6" y2="412.32500000000005"/>
<line x1="508.0" y1="360.675" x2="510.6" y2="360.675"/>
<line x1="508.0" y1="309.025" x2="510.6" y2="309.025"/>
</g>
<text x="503.3" y="494.40000000000003" text-anchor="end" font-size="14.7">0.4</text>
<text x="503.3" y="442.75000000000006" text-anchor="end" font-size="14.7">0.6</text>
<text x="503.3" y="391.1" text-anchor="end" font-size="14.7">0.8</text>
<text x="503.3" y="339.45000000000005" text-anchor="end" font-size="14.7">1.0</text>
<text x="503.3" y="287.80000000000007" text-anchor="end" font-size="14.7">1.2</text>
<g stroke="#3a3a3a" stroke-width="1.1">
<line x1="537.4166666666666" y1="490.5" x2="537.4166666666666" y2="488.1"/>
<line x1="596.25" y1="490.5" x2="596.25" y2="488.1"/>
<line x1="655.0833333333334" y1="490.5" x2="655.0833333333334" y2="488.1"/>
</g>
<text x="537.4166666666666" y="505.8" text-anchor="middle" font-size="14.7">CKDu</text>
<text x="596.25" y="505.8" text-anchor="middle" font-size="14.7">non-CKDu</text>
<text x="655.0833333333334" y="505.8" text-anchor="middle" font-size="14.7">SW</text>
<g stroke="#3a3a3a" stroke-width="1.1" fill="none">
<polyline points="79.0,289.0 79.0,281.0 138.0,281.0 138.0,289.5"/>
<polyline points="308.0,298 308.0,290.0 425.5,290.0 425.5,298.4"/>
<line x1="366.5" y1="290.0" x2="366.5" y2="298.2"/>
<polyline points="537.5,294.0 537.5,285.5 654.5,285.5 654.5,294.0"/>
<line x1="595.5" y1="285.5" x2="595.5" y2="294.0"/>
</g>
<g fill="#1a1a1a"><ellipse cx="105.85" cy="273.15" rx="1.35" ry="0.72" transform="rotate(-90 105.85 273.15)"/><ellipse cx="105.85" cy="277.45" rx="1.35" ry="0.72" transform="rotate(-270 105.85 277.45)"/><ellipse cx="107.71" cy="274.23" rx="1.35" ry="0.72" transform="rotate(-30 107.71 274.23)"/><ellipse cx="103.99" cy="274.23" rx="1.35" ry="0.72" transform="rotate(-150 103.99 274.23)"/><ellipse cx="103.99" cy="276.38" rx="1.35" ry="0.72" transform="rotate(-210 103.99 276.38)"/><ellipse cx="107.71" cy="276.38" rx="1.35" ry="0.72" transform="rotate(-330 107.71 276.38)"/></g>
<g fill="#1a1a1a"><ellipse cx="114.15" cy="273.15" rx="1.35" ry="0.72" transform="rotate(-90 114.15 273.15)"/><ellipse cx="114.15" cy="277.45" rx="1.35" ry="0.72" transform="rotate(-270 114.15 277.45)"/><ellipse cx="116.01" cy="274.23" rx="1.35" ry="0.72" transform="rotate(-30 116.01 274.23)"/><ellipse cx="112.29" cy="274.23" rx="1.35" ry="0.72" transform="rotate(-150 112.29 274.23)"/><ellipse cx="112.29" cy="276.38" rx="1.35" ry="0.72" transform="rotate(-210 112.29 276.38)"/><ellipse cx="116.01" cy="276.38" rx="1.35" ry="0.72" transform="rotate(-330 116.01 276.38)"/></g>
<g fill="#1a1a1a"><ellipse cx="333.90" cy="281.15" rx="1.35" ry="0.72" transform="rotate(-90 333.90 281.15)"/><ellipse cx="333.90" cy="285.45" rx="1.35" ry="0.72" transform="rotate(-270 333.90 285.45)"/><ellipse cx="335.76" cy="282.23" rx="1.35" ry="0.72" transform="rotate(-30 335.76 282.23)"/><ellipse cx="332.04" cy="282.23" rx="1.35" ry="0.72" transform="rotate(-150 332.04 282.23)"/><ellipse cx="332.04" cy="284.38" rx="1.35" ry="0.72" transform="rotate(-210 332.04 284.38)"/><ellipse cx="335.76" cy="284.38" rx="1.35" ry="0.72" transform="rotate(-330 335.76 284.38)"/></g>
<g fill="#1a1a1a"><ellipse cx="342.20" cy="281.15" rx="1.35" ry="0.72" transform="rotate(-90 342.20 281.15)"/><ellipse cx="342.20" cy="285.45" rx="1.35" ry="0.72" transform="rotate(-270 342.20 285.45)"/><ellipse cx="344.06" cy="282.23" rx="1.35" ry="0.72" transform="rotate(-30 344.06 282.23)"/><ellipse cx="340.34" cy="282.23" rx="1.35" ry="0.72" transform="rotate(-150 340.34 282.23)"/><ellipse cx="340.34" cy="284.38" rx="1.35" ry="0.72" transform="rotate(-210 340.34 284.38)"/><ellipse cx="344.06" cy="284.38" rx="1.35" ry="0.72" transform="rotate(-330 344.06 284.38)"/></g>
<g fill="#1a1a1a"><ellipse cx="394.85" cy="280.25" rx="1.35" ry="0.72" transform="rotate(-90 394.85 280.25)"/><ellipse cx="394.85" cy="284.55" rx="1.35" ry="0.72" transform="rotate(-270 394.85 284.55)"/><ellipse cx="396.71" cy="281.32" rx="1.35" ry="0.72" transform="rotate(-30 396.71 281.32)"/><ellipse cx="392.99" cy="281.32" rx="1.35" ry="0.72" transform="rotate(-150 392.99 281.32)"/><ellipse cx="392.99" cy="283.47" rx="1.35" ry="0.72" transform="rotate(-210 392.99 283.47)"/><ellipse cx="396.71" cy="283.47" rx="1.35" ry="0.72" transform="rotate(-330 396.71 283.47)"/></g>
<g fill="#1a1a1a"><ellipse cx="403.15" cy="280.25" rx="1.35" ry="0.72" transform="rotate(-90 403.15 280.25)"/><ellipse cx="403.15" cy="284.55" rx="1.35" ry="0.72" transform="rotate(-270 403.15 284.55)"/><ellipse cx="405.01" cy="281.32" rx="1.35" ry="0.72" transform="rotate(-30 405.01 281.32)"/><ellipse cx="401.29" cy="281.32" rx="1.35" ry="0.72" transform="rotate(-150 401.29 281.32)"/><ellipse cx="401.29" cy="283.47" rx="1.35" ry="0.72" transform="rotate(-210 401.29 283.47)"/><ellipse cx="405.01" cy="283.47" rx="1.35" ry="0.72" transform="rotate(-330 405.01 283.47)"/></g>
<g fill="#1a1a1a"><ellipse cx="568.90" cy="277.35" rx="1.35" ry="0.72" transform="rotate(-90 568.90 277.35)"/><ellipse cx="568.90" cy="281.65" rx="1.35" ry="0.72" transform="rotate(-270 568.90 281.65)"/><ellipse cx="570.76" cy="278.43" rx="1.35" ry="0.72" transform="rotate(-30 570.76 278.43)"/><ellipse cx="567.04" cy="278.43" rx="1.35" ry="0.72" transform="rotate(-150 567.04 278.43)"/><ellipse cx="567.04" cy="280.57" rx="1.35" ry="0.72" transform="rotate(-210 567.04 280.57)"/><ellipse cx="570.76" cy="280.57" rx="1.35" ry="0.72" transform="rotate(-330 570.76 280.57)"/></g>
<g fill="#1a1a1a"><ellipse cx="629.90" cy="277.35" rx="1.35" ry="0.72" transform="rotate(-90 629.90 277.35)"/><ellipse cx="629.90" cy="281.65" rx="1.35" ry="0.72" transform="rotate(-270 629.90 281.65)"/><ellipse cx="631.76" cy="278.43" rx="1.35" ry="0.72" transform="rotate(-30 631.76 278.43)"/><ellipse cx="628.04" cy="278.43" rx="1.35" ry="0.72" transform="rotate(-150 628.04 278.43)"/><ellipse cx="628.04" cy="280.57" rx="1.35" ry="0.72" transform="rotate(-210 628.04 280.57)"/><ellipse cx="631.76" cy="280.57" rx="1.35" ry="0.72" transform="rotate(-330 631.76 280.57)"/></g>
<g font-size="17.6">
<text transform="translate(0,15.1) scale(1,1.06)">(A)</text>
<text transform="translate(234.2,15.0) scale(1,1.06)">(B)</text>
<text transform="translate(0,269.6) scale(1,1.06)">(C)</text>
<text transform="translate(234.6,269.6) scale(1,1.06)">(D)</text>
<text transform="translate(465.4,269.6) scale(1,1.06)">(E)</text>
</g>
<text transform="translate(11.7,115.7) rotate(-90)" text-anchor="middle" font-size="14.7">SUVA<tspan font-size="10.2" dx="1.8" dy="4.2">254</tspan></text>
<text transform="translate(247.5,115.4) rotate(-90)" text-anchor="middle" font-size="14.7">S<tspan font-size="10.6" dx="0" dy="4.2">275-295</tspan></text>
<text transform="translate(17.4,380.3) rotate(-90)" text-anchor="middle" font-size="14.7">FI</text>
<text transform="translate(250.2,380.2) rotate(-90)" text-anchor="middle" font-size="14.7">HIX</text>
<text transform="translate(475.6,380.2) rotate(-90)" text-anchor="middle" font-size="14.7">BIX</text>
<rect x="509.5" y="34.5" width="150.6" height="162.8" fill="none" stroke="#888" stroke-width="1"/>
<g stroke="#222" stroke-width="1.1" fill="none">
<line x1="551.6" y1="45.6" x2="565.8" y2="45.6"/>
<line x1="558.7" y1="45.6" x2="558.7" y2="67.7"/>
<rect x="544.6" y="67.7" width="28" height="96.3"/>
<line x1="544.6" y1="103.2" x2="572.6" y2="103.2"/>
<line x1="558.7" y1="164" x2="558.7" y2="185.9"/>
<line x1="551.6" y1="185.9" x2="565.8" y2="185.9"/>
<rect x="553.6" y="122.9" width="9.6" height="9.6"/>
</g>
<g font-size="14.7">
<text x="583.5" y="50.8">Maximum</text>
<text x="584" y="76.6">75% Q.</text>
<text x="584" y="106.3">Median</text>
<text x="584" y="132.6">Mean</text>
<text x="584" y="165">25% Q.</text>
<text x="585.4" y="188">Minimum</text>
</g>
</svg>
</body></html>
